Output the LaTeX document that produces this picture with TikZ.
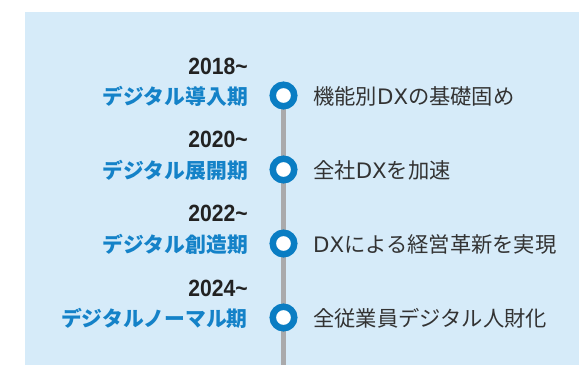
\documentclass[tikz,border=0pt]{standalone}
\usepackage{fontspec}
\usetikzlibrary{backgrounds}
\newfontfamily\jp{Noto Sans CJK JP}
\newfontfamily\lat{DejaVu Sans}
\newfontfamily\yr[FakeStretch=0.9]{Liberation Sans}
\newcommand{\dxword}{{\lat DX}}
\definecolor{bgblue}{RGB}{214,235,249}
\definecolor{ringblue}{RGB}{10,125,195}
\definecolor{labblue}{RGB}{20,130,200}
\definecolor{linegray}{RGB}{170,170,172}
\definecolor{txtgray}{RGB}{51,51,51}
\definecolor{yrblack}{RGB}{34,34,34}
\tikzset{
  ring/.style={circle, draw=ringblue, line width=6.5pt, fill=white, minimum size=21.5pt, inner sep=0pt},
  year/.style={anchor=base east, inner sep=0pt, text=yrblack, font=\yr\bfseries\fontsize{23.5}{23.5}\selectfont},
  period/.style={anchor=base east, inner sep=0pt, text=labblue, font=\jp\bfseries\fontsize{20.8}{20.8}\selectfont},
  desc/.style={anchor=base west, inner sep=0pt, text=txtgray, font=\jp\fontsize{21.3}{21.3}\selectfont},
  spine/.style={draw=linegray, line width=5.5pt}
}
\begin{document}
\begin{tikzpicture}[x=1pt,y=-1pt]
\useasboundingbox (0,0) rectangle (579,365);
\coordinate (bottom) at (283.5,365);
\node[ring] (c1) at (283.5,95.5) {};
\node[ring] (c2) at (283.5,169.5) {};
\node[ring] (c3) at (283.5,243.5) {};
\node[ring] (c4) at (283.5,317.5) {};
\begin{scope}[on background layer]
\fill[bgblue] (25,12) rectangle (579,365);
\draw[spine] (c1.center) -- (bottom);
\end{scope}
\node[year] (y1) at (248,74) {2018\char"7E};
\node[year] (y2) at (248,147.5) {2020\char"7E};
\node[year] (y3) at (248,221.5) {2022\char"7E};
\node[year] (y4) at (248,296) {2024\char"7E};
\node[period] (p1) at (248,104) {デジタル導入期};
\node[period] (p2) at (248,178) {デジタル展開期};
\node[period] (p3) at (248,252) {デジタル創造期};
\node[period] (p4) at (248,326) {デジタルノーマル期};
\node[desc] (d1) at (313,104) {機能別\dxword の基礎固め};
\node[desc] (d2) at (313,178) {全社\dxword を加速};
\node[desc] (d3) at (313,252) {\dxword による経営革新を実現};
\node[desc] (d4) at (313,326) {全従業員デジタル人財化};
\end{tikzpicture}
\end{document}
